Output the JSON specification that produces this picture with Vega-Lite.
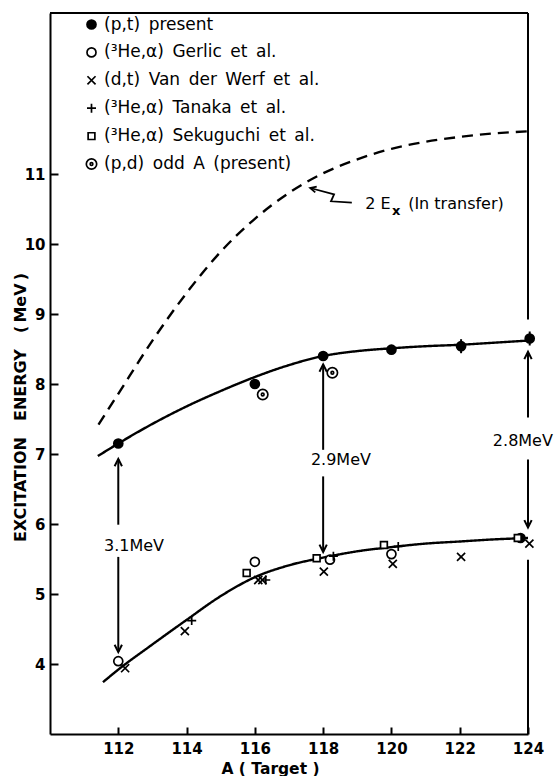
{
  "$schema": "https://vega.github.io/schema/vega-lite/v6.json",
  "width": 478,
  "height": 721,
  "autosize": {"type": "none"},
  "padding": {"left": 50, "top": 13, "right": 29, "bottom": 42},
  "background": "white",
  "config": {
    "view": {"stroke": null},
    "font": "DejaVu Sans",
    "axis": {"grid": false, "domainColor": "black", "domainWidth": 2, "tickColor": "black", "tickWidth": 2, "labelColor": "black", "titleColor": "black", "labelFont": "DejaVu Sans", "titleFont": "DejaVu Sans"},
    "legend": {
      "title": null, "orient": "none", "legendX": 33, "legendY": 3, "padding": 0,
      "labelFontSize": 17, "labelFont": "DejaVu Sans", "labelColor": "black", "labelLimit": 400,
      "rowPadding": 9.9, "labelOffset": 4, "symbolSize": 81,
      "symbolStrokeColor": "black", "symbolStrokeWidth": 1.7, "symbolOpacity": 1
    }
  },
  "datasets": {
    "curves": [
      {"curve": "upper", "A": 111.4, "E": 6.97},
      {"curve": "upper", "A": 112, "E": 7.15},
      {"curve": "upper", "A": 113, "E": 7.43},
      {"curve": "upper", "A": 114, "E": 7.68},
      {"curve": "upper", "A": 115, "E": 7.9},
      {"curve": "upper", "A": 116, "E": 8.1},
      {"curve": "upper", "A": 117, "E": 8.27},
      {"curve": "upper", "A": 118, "E": 8.4},
      {"curve": "upper", "A": 119, "E": 8.47},
      {"curve": "upper", "A": 120, "E": 8.51},
      {"curve": "upper", "A": 121, "E": 8.54},
      {"curve": "upper", "A": 122, "E": 8.56},
      {"curve": "upper", "A": 123, "E": 8.59},
      {"curve": "upper", "A": 124, "E": 8.62},
      {"curve": "lower", "A": 111.55, "E": 3.74},
      {"curve": "lower", "A": 112, "E": 3.92},
      {"curve": "lower", "A": 113, "E": 4.28},
      {"curve": "lower", "A": 114, "E": 4.63},
      {"curve": "lower", "A": 115, "E": 4.97},
      {"curve": "lower", "A": 116, "E": 5.24},
      {"curve": "lower", "A": 117, "E": 5.41},
      {"curve": "lower", "A": 118, "E": 5.52},
      {"curve": "lower", "A": 119, "E": 5.61},
      {"curve": "lower", "A": 120, "E": 5.67},
      {"curve": "lower", "A": 121, "E": 5.72},
      {"curve": "lower", "A": 122, "E": 5.75},
      {"curve": "lower", "A": 123, "E": 5.78},
      {"curve": "lower", "A": 124, "E": 5.8},
      {"curve": "2Ex", "A": 111.42, "E": 7.42},
      {"curve": "2Ex", "A": 112, "E": 7.86},
      {"curve": "2Ex", "A": 113, "E": 8.62},
      {"curve": "2Ex", "A": 114, "E": 9.3},
      {"curve": "2Ex", "A": 115, "E": 9.89},
      {"curve": "2Ex", "A": 116, "E": 10.36},
      {"curve": "2Ex", "A": 117, "E": 10.73},
      {"curve": "2Ex", "A": 118, "E": 11.01},
      {"curve": "2Ex", "A": 119, "E": 11.21},
      {"curve": "2Ex", "A": 120, "E": 11.36},
      {"curve": "2Ex", "A": 121, "E": 11.46},
      {"curve": "2Ex", "A": 122, "E": 11.53},
      {"curve": "2Ex", "A": 123, "E": 11.58},
      {"curve": "2Ex", "A": 124, "E": 11.61}
    ],
    "squiggle": [
      {"i": 1, "A": 118.84, "E": 10.59},
      {"i": 2, "A": 118.23, "E": 10.61},
      {"i": 3, "A": 118.32, "E": 10.71},
      {"i": 4, "A": 117.62, "E": 10.8}
    ],
    "segments": [
      {"A": 110, "A2": 124, "E": 13.3, "E2": 13.3},
      {"A": 124, "A2": 124, "E": 13.3, "E2": 8.92},
      {"A": 124, "A2": 124, "E": 5.49, "E2": 3.0},
      {"A": 112, "A2": 112, "E": 6.93, "E2": 5.99},
      {"A": 112, "A2": 112, "E": 5.53, "E2": 4.17},
      {"A": 118, "A2": 118, "E": 8.28, "E2": 7.06},
      {"A": 118, "A2": 118, "E": 6.68, "E2": 5.6},
      {"A": 124, "A2": 124, "E": 8.46, "E2": 7.52},
      {"A": 124, "A2": 124, "E": 6.92, "E2": 5.95},
      {"A": 122.04, "A2": 122.04, "E": 8.44, "E2": 8.64},
      {"A": 124.05, "A2": 124.05, "E": 8.55, "E2": 8.75}
    ],
    "heads": [
      {"dir": "up", "A": 112, "E": 6.93},
      {"dir": "down", "A": 112, "E": 4.17},
      {"dir": "up", "A": 118, "E": 8.28},
      {"dir": "down", "A": 118, "E": 5.6},
      {"dir": "up", "A": 124, "E": 8.46},
      {"dir": "down", "A": 124, "E": 5.95}
    ],
    "gaps": [
      {"A": 112.46, "E": 5.68, "label": "3.1MeV"},
      {"A": 118.52, "E": 6.92, "label": "2.9MeV"},
      {"A": 123.85, "E": 7.18, "label": "2.8MeV"}
    ],
    "note": [
      {"part": "main", "A": 119.23, "E": 10.57, "label": "2 E"},
      {"part": "sub", "A": 120.02, "E": 10.47, "label": "x"},
      {"part": "main", "A": 120.49, "E": 10.57, "label": "(In transfer)"}
    ],
    "points": [
      {"series": "(p,t)\u2002present", "A": 112, "E": 7.15},
      {"series": "(p,t)\u2002present", "A": 116, "E": 8.0},
      {"series": "(p,t)\u2002present", "A": 118, "E": 8.4},
      {"series": "(p,t)\u2002present", "A": 120, "E": 8.49},
      {"series": "(p,t)\u2002present", "A": 122.04, "E": 8.54},
      {"series": "(p,t)\u2002present", "A": 124.05, "E": 8.65},
      {"series": "(p,t)\u2002present", "A": 123.78, "E": 5.8},
      {"series": "(³He,α)\u2002Gerlic\u2002et\u2002al.", "A": 112, "E": 4.04},
      {"series": "(³He,α)\u2002Gerlic\u2002et\u2002al.", "A": 116, "E": 5.46},
      {"series": "(³He,α)\u2002Gerlic\u2002et\u2002al.", "A": 118.2, "E": 5.49},
      {"series": "(³He,α)\u2002Gerlic\u2002et\u2002al.", "A": 120, "E": 5.57},
      {"series": "(d,t)\u2002Van\u2002der\u2002Werf\u2002et\u2002al.", "A": 112.2, "E": 3.94},
      {"series": "(d,t)\u2002Van\u2002der\u2002Werf\u2002et\u2002al.", "A": 113.95, "E": 4.47},
      {"series": "(d,t)\u2002Van\u2002der\u2002Werf\u2002et\u2002al.", "A": 116.1, "E": 5.2},
      {"series": "(d,t)\u2002Van\u2002der\u2002Werf\u2002et\u2002al.", "A": 116.22, "E": 5.2},
      {"series": "(d,t)\u2002Van\u2002der\u2002Werf\u2002et\u2002al.", "A": 118.02, "E": 5.32},
      {"series": "(d,t)\u2002Van\u2002der\u2002Werf\u2002et\u2002al.", "A": 120.04, "E": 5.43},
      {"series": "(d,t)\u2002Van\u2002der\u2002Werf\u2002et\u2002al.", "A": 122.04, "E": 5.53},
      {"series": "(d,t)\u2002Van\u2002der\u2002Werf\u2002et\u2002al.", "A": 124.04, "E": 5.72},
      {"series": "(³He,α)\u2002Tanaka\u2002et\u2002al.", "A": 114.15, "E": 4.62},
      {"series": "(³He,α)\u2002Tanaka\u2002et\u2002al.", "A": 116.32, "E": 5.2},
      {"series": "(³He,α)\u2002Tanaka\u2002et\u2002al.", "A": 118.3, "E": 5.54},
      {"series": "(³He,α)\u2002Tanaka\u2002et\u2002al.", "A": 120.2, "E": 5.68},
      {"series": "(³He,α)\u2002Sekuguchi\u2002et\u2002al.", "A": 115.76, "E": 5.3},
      {"series": "(³He,α)\u2002Sekuguchi\u2002et\u2002al.", "A": 117.81, "E": 5.51},
      {"series": "(³He,α)\u2002Sekuguchi\u2002et\u2002al.", "A": 119.78, "E": 5.7},
      {"series": "(³He,α)\u2002Sekuguchi\u2002et\u2002al.", "A": 123.7, "E": 5.8},
      {"series": "(p,d)\u2002odd\u2002A\u2002(present)", "A": 116.23, "E": 7.85},
      {"series": "(p,d)\u2002odd\u2002A\u2002(present)", "A": 118.27, "E": 8.16}
    ]
  },
  "encoding": {
    "x": {
      "field": "A", "type": "quantitative",
      "scale": {"domain": [110, 124], "nice": false, "zero": false},
      "axis": {
        "values": [112, 114, 116, 118, 120, 122, 124],
        "tickSize": -7, "labelPadding": 14, "labelFontSize": 15, "labelFontWeight": "bold",
        "labelFlush": false, "labelOverlap": false,
        "title": "A ( Target )", "titleFontSize": 15.5, "titleFontWeight": "bold",
        "titleX": 220, "titleY": 34, "titleBaseline": "middle", "titleAlign": "center"
      }
    },
    "y": {
      "field": "E", "type": "quantitative",
      "scale": {"domain": [3, 13.3], "nice": false, "zero": false},
      "axis": {
        "values": [4, 5, 6, 7, 8, 9, 10, 11],
        "tickSize": -8, "labelPadding": 13, "labelFontSize": 15, "labelFontWeight": "bold",
        "labelFlush": false, "labelOverlap": false,
        "title": "EXCITATION\u2003ENERGY\u2003(\u2009MeV\u2009)", "titleFontSize": 16, "titleFontWeight": "bold",
        "titleX": -30, "titleY": 394, "titleAngle": 270, "titleAlign": "center", "titleBaseline": "middle"
      }
    }
  },
  "layer": [
    {
      "data": {"name": "curves"},
      "mark": {"type": "line", "interpolate": "monotone", "color": "black", "strokeWidth": 2.4},
      "encoding": {
        "detail": {"field": "curve"},
        "strokeDash": {"field": "curve", "type": "nominal", "legend": null,
          "scale": {"domain": ["upper", "lower", "2Ex"], "range": [[1, 0], [1, 0], [11, 7]]}}
      }
    },
    {
      "data": {"name": "squiggle"},
      "mark": {"type": "line", "color": "black", "strokeWidth": 1.8},
      "encoding": {"order": {"field": "i", "type": "quantitative"}}
    },
    {
      "data": {"name": "squiggle"},
      "transform": [{"filter": "datum.i == 4"}],
      "mark": {"type": "point", "shape": "M-0.6,1.2L0,0L0.6,1.2", "size": 100, "filled": false, "stroke": "black", "strokeWidth": 1.8, "opacity": 1, "angle": 284}
    },
    {
      "data": {"name": "segments"},
      "mark": {"type": "rule", "color": "black", "strokeWidth": 2},
      "encoding": {
        "x2": {"field": "A2"},
        "y2": {"field": "E2"}
      }
    },
    {
      "data": {"name": "heads"},
      "transform": [{"filter": "datum.dir == 'up'"}],
      "mark": {"type": "point", "shape": "M-0.6,1.2L0,0L0.6,1.2", "size": 150, "filled": false, "stroke": "black", "strokeWidth": 2, "opacity": 1}
    },
    {
      "data": {"name": "heads"},
      "transform": [{"filter": "datum.dir == 'down'"}],
      "mark": {"type": "point", "shape": "M-0.6,-1.2L0,0L0.6,-1.2", "size": 150, "filled": false, "stroke": "black", "strokeWidth": 2, "opacity": 1}
    },
    {
      "data": {"name": "gaps"},
      "mark": {"type": "text", "fontSize": 16, "font": "DejaVu Sans", "align": "center", "baseline": "middle", "color": "black"},
      "encoding": {"text": {"field": "label"}}
    },
    {
      "data": {"name": "note"},
      "transform": [{"filter": "datum.part == 'main'"}],
      "mark": {"type": "text", "fontSize": 16, "font": "DejaVu Sans", "align": "left", "baseline": "middle", "color": "black"},
      "encoding": {"text": {"field": "label"}}
    },
    {
      "data": {"name": "note"},
      "transform": [{"filter": "datum.part == 'sub'"}],
      "mark": {"type": "text", "fontSize": 13, "font": "DejaVu Sans", "fontWeight": "bold", "align": "left", "baseline": "middle", "color": "black"},
      "encoding": {"text": {"field": "label"}}
    },
    {
      "data": {"name": "points"},
      "mark": {"type": "point", "size": 81, "strokeWidth": 1.7, "opacity": 1},
      "encoding": {
        "shape": {
          "field": "series", "type": "nominal",
          "scale": {
            "domain": ["(p,t)\u2002present", "(³He,α)\u2002Gerlic\u2002et\u2002al.", "(d,t)\u2002Van\u2002der\u2002Werf\u2002et\u2002al.", "(³He,α)\u2002Tanaka\u2002et\u2002al.", "(³He,α)\u2002Sekuguchi\u2002et\u2002al.", "(p,d)\u2002odd\u2002A\u2002(present)"],
            "range": ["circle", "circle", "M-0.9,-0.9L0.9,0.9M-0.9,0.9L0.9,-0.9", "M-1,0L1,0M0,-1L0,1", "M-0.75,-0.75H0.75V0.75H-0.75Z", "M-1.15,0A1.15,1.15 0 1,0 1.15,0A1.15,1.15 0 1,0 -1.15,0ZM-0.3,0A0.3,0.3 0 1,0 0.3,0A0.3,0.3 0 1,0 -0.3,0Z"]
          }
        },
        "fill": {
          "field": "series", "type": "nominal",
          "scale": {
            "domain": ["(p,t)\u2002present", "(³He,α)\u2002Gerlic\u2002et\u2002al.", "(d,t)\u2002Van\u2002der\u2002Werf\u2002et\u2002al.", "(³He,α)\u2002Tanaka\u2002et\u2002al.", "(³He,α)\u2002Sekuguchi\u2002et\u2002al.", "(p,d)\u2002odd\u2002A\u2002(present)"],
            "range": ["black", "white", "transparent", "transparent", "white", "white"]
          }
        },
        "stroke": {
          "field": "series", "type": "nominal",
          "scale": {
            "domain": ["(p,t)\u2002present", "(³He,α)\u2002Gerlic\u2002et\u2002al.", "(d,t)\u2002Van\u2002der\u2002Werf\u2002et\u2002al.", "(³He,α)\u2002Tanaka\u2002et\u2002al.", "(³He,α)\u2002Sekuguchi\u2002et\u2002al.", "(p,d)\u2002odd\u2002A\u2002(present)"],
            "range": ["black", "black", "black", "black", "black", "black"]
          }
        }
      }
    }
  ]
}
